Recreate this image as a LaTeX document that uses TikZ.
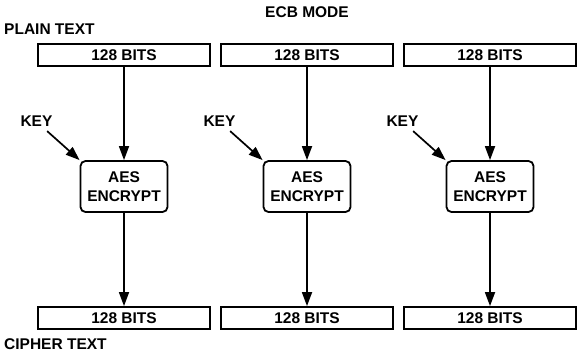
\documentclass[tikz,border=0pt]{standalone}
\usepackage{fontspec}
\setmainfont{Liberation Sans}
\usetikzlibrary{arrows.meta,positioning}

\begin{document}
\begin{tikzpicture}[
    x=1pt,y=-1pt,
    font=\fontsize{15.5}{18.5}\selectfont\bfseries,
    bits/.style={
      draw,
      line width=1.8pt,
      minimum width=172pt,
      minimum height=22pt,
      inner sep=0pt
    },
    cipher/.style={
      draw,
      rounded corners=5pt,
      line width=1.8pt,
      minimum width=87pt,
      minimum height=51pt,
      inner sep=0pt,
      align=center
    },
    label/.style={inner sep=2pt},
    arrow/.style={-{Triangle[length=14pt,width=10pt]},line width=1.7pt}
  ]
    \useasboundingbox (0,0) rectangle (577,354);
    \node (title) at (307,12.5) {ECB MODE};
    \node[anchor=west,inner sep=0pt] (plain) at (4,29) {PLAIN TEXT};
    \node[anchor=west,inner sep=0pt] (cipher) at (4,344) {CIPHER TEXT};
    % plain text blocks
    \node[bits] (in1) at (124,55) {128 BITS};
    \node[bits] (in2) at (307,55) {128 BITS};
    \node[bits] (in3) at (490,55) {128 BITS};
    % encryption blocks
    \node[cipher] (aes1) at (124,186.5) {AES\\ENCRYPT};
    \node[cipher] (aes2) at (307,186.5) {AES\\ENCRYPT};
    \node[cipher] (aes3) at (490,186.5) {AES\\ENCRYPT};
    % cipher text blocks
    \node[bits] (out1) at (124,318) {128 BITS};
    \node[bits] (out2) at (307,318) {128 BITS};
    \node[bits] (out3) at (490,318) {128 BITS};
    % keys
    \node[label,above left=31pt and 25pt of aes1.north west] (key1) {KEY};
    \node[label,above left=31pt and 25pt of aes2.north west] (key2) {KEY};
    \node[label,above left=31pt and 25pt of aes3.north west] (key3) {KEY};
    \foreach \a/\b in {in1/aes1,in2/aes2,in3/aes3,aes1/out1,aes2/out2,aes3/out3}
      \draw[arrow] (\a) -- (\b);
    \foreach \k in {1,2,3}
      \draw[arrow,shorten <=3pt] (key\k) -- (aes\k.north west);
  \end{tikzpicture}
\end{document}
